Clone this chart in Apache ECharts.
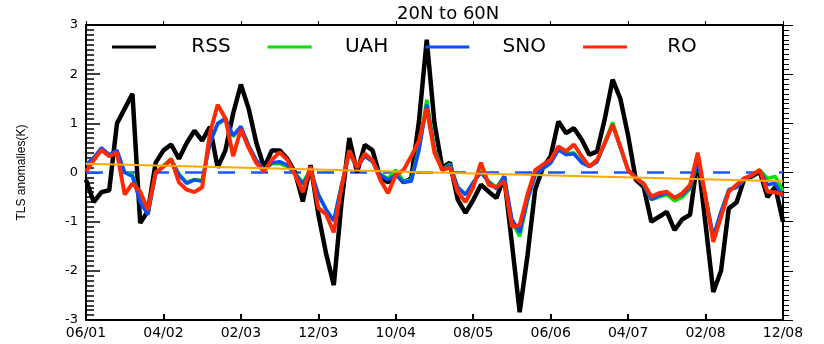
<!DOCTYPE html>
<html>
<head>
<meta charset="utf-8">
<script src="https://cdn.jsdelivr.net/npm/echarts@6/dist/echarts.min.js"></script>
<style>
html,body{margin:0;padding:0;background:#fff;}
#chart{width:824px;height:344px;}
</style>
</head>
<body>
<div id="chart"></div>
<script>
// Months June 2001 .. December 2008 (91 months)
const startYear = 2001, startMonth = 6, monthCount = 91;
const categories = [];
for (let k = 0; k < monthCount; k++) {
  const m = (startMonth - 1 + k) % 12 + 1;
  const y = startYear + Math.floor((startMonth - 1 + k) / 12);
  categories.push(String(m).padStart(2, '0') + '/' + String(y % 100).padStart(2, '0'));
}
const tickLabels = ['06/01','04/02','02/03','12/03','10/04','08/05','06/06','04/07','02/08','12/08'];

const rss = [-0.15,-0.6,-0.4,-0.36,1.0,1.3,1.6,-1.03,-0.78,0.2,
  0.45,0.57,0.28,0.6,0.85,0.65,0.93,0.1,0.45,1.2,
  1.79,1.3,0.6,0.1,0.45,0.45,0.28,0.0,-0.59,0.15,
  -0.85,-1.65,-2.29,-0.6,0.7,0.0,0.56,0.45,-0.1,-0.2,
  0.0,-0.2,-0.12,1.05,2.7,1.0,0.1,0.2,-0.55,-0.82,
  -0.56,-0.25,-0.39,-0.52,-0.08,-1.45,-2.84,-1.7,-0.35,0.1,
  0.33,1.04,0.8,0.9,0.67,0.36,0.43,1.1,1.89,1.5,
  0.75,-0.15,-0.29,-1.0,-0.9,-0.8,-1.17,-0.95,-0.86,0.3,
  -1.05,-2.43,-2.0,-0.73,-0.61,-0.13,-0.08,0.02,-0.5,-0.29,
  -1.0];
const uah = [0.15,0.3,0.48,0.36,0.43,0.0,-0.04,-0.58,-0.84,0.0,
  0.14,0.28,-0.03,-0.2,-0.14,-0.16,0.6,0.98,1.08,0.73,
  0.92,0.55,0.24,0.05,0.18,0.18,0.12,-0.02,-0.2,0.06,
  -0.45,-0.75,-0.98,-0.25,0.42,0.12,0.35,0.22,-0.03,-0.12,
  0.05,-0.18,-0.15,0.5,1.48,0.48,0.06,0.17,-0.3,-0.45,
  -0.2,0.02,-0.18,-0.3,-0.08,-1.0,-1.3,-0.58,-0.05,0.08,
  0.2,0.48,0.38,0.4,0.22,0.12,0.22,0.62,1.02,0.52,
  0.05,-0.1,-0.25,-0.55,-0.5,-0.45,-0.58,-0.5,-0.33,0.25,
  -0.5,-1.32,-0.8,-0.35,-0.3,-0.15,-0.05,0.05,-0.12,-0.08,
  -0.38];
const sno = [0.15,0.3,0.5,0.36,0.45,0.0,-0.08,-0.6,-0.86,-0.02,
  0.12,0.25,-0.05,-0.22,-0.15,-0.18,0.6,1.0,1.1,0.75,
  0.94,0.55,0.25,0.05,0.2,0.22,0.15,-0.02,-0.24,0.05,
  -0.45,-0.75,-0.98,-0.25,0.4,0.1,0.33,0.22,-0.05,-0.15,
  -0.05,-0.2,-0.18,0.45,1.38,0.45,0.05,0.15,-0.3,-0.45,
  -0.2,0.0,-0.2,-0.33,-0.08,-0.95,-1.22,-0.55,-0.05,0.08,
  0.19,0.46,0.36,0.38,0.2,0.12,0.22,0.6,0.97,0.5,
  0.05,-0.1,-0.25,-0.55,-0.47,-0.42,-0.5,-0.45,-0.3,0.25,
  -0.5,-1.3,-0.8,-0.35,-0.3,-0.15,-0.05,0.05,-0.25,-0.22,
  -0.5];
const ro = [0.02,0.25,0.46,0.33,0.4,-0.45,-0.22,-0.39,-0.76,0.0,
  0.12,0.27,-0.2,-0.35,-0.4,-0.3,0.8,1.38,1.1,0.33,
  0.88,0.5,0.19,0.02,0.26,0.41,0.26,-0.05,-0.4,0.12,
  -0.72,-0.85,-1.22,-0.3,0.45,0.1,0.38,0.25,-0.15,-0.42,
  -0.05,0.05,0.33,0.65,1.3,0.4,0.05,0.1,-0.4,-0.6,
  -0.3,0.2,-0.25,-0.3,-0.18,-1.1,-1.07,-0.45,0.05,0.16,
  0.26,0.53,0.43,0.57,0.33,0.12,0.26,0.6,0.97,0.53,
  0.05,-0.12,-0.22,-0.49,-0.42,-0.39,-0.52,-0.42,-0.25,0.4,
  -0.5,-1.41,-0.9,-0.39,-0.25,-0.12,-0.05,0.05,-0.39,-0.4,
  -0.45];
const trendEnds = [0.18, -0.18];
const zeroLevel = [0, 0];

const names = ['RSS','UAH','SNO','RO'];
const colors = ['#000000','#00e000','#0a4dff','#ff2a00'];
const values = [rss, uah, sno, ro];
const widths = [4.5, 3.5, 3.5, 4];

const chart = echarts.init(document.getElementById('chart'));
const last = categories.length - 1;

const series = names.map((n, k) => ({
  name: n, type: 'line', data: values[k], symbol: 'none', smooth: false,
  lineStyle: {color: colors[k], width: widths[k]}, itemStyle: {color: colors[k]},
  z: 3 + k, animation: false
}));
series.push({
  name: 'zero', type: 'line', data: [[0, zeroLevel[0]], [last, zeroLevel[1]]], symbol: 'none',
  xAxisIndex: 1, yAxisIndex: 1,
  lineStyle: {color: '#1a55ff', width: 2.5, type: [17, 16]}, z: 2, animation: false, silent: true
});
series.push({
  name: 'trend', type: 'line', data: [[0, trendEnds[0]], [last, trendEnds[1]]], symbol: 'none',
  xAxisIndex: 1, yAxisIndex: 1,
  lineStyle: {color: '#ffa800', width: 2}, z: 8, animation: false, silent: true
});

const font = 'DejaVu Sans';
chart.setOption({
  animation: false,
  backgroundColor: '#ffffff',
  title: {
    text: '20N to 60N', left: 392, top: 0,
    textStyle: {fontFamily: font, fontSize: 18, fontWeight: 'normal', color: '#000'}
  },
  legend: {
    data: names, left: 107, top: 32, itemWidth: 44, itemHeight: 3, itemGap: 37,
    icon: 'rect',
    formatter: '{t|{name}}',
    textStyle: {
      fontFamily: font, fontSize: 20, color: '#000',
      rich: {t: {width: 100, align: 'center', fontFamily: font, fontSize: 20, color: '#000'}}
    }
  },
  grid: {left: 86, right: 41, top: 25, bottom: 24},
  xAxis: [{
    type: 'category', data: categories, boundaryGap: false,
    axisLine: {show: true, onZero: false, lineStyle: {color: '#000', width: 2}},
    axisTick: {show: true, inside: true, interval: 9, length: 6, lineStyle: {color: '#000', width: 2}},
    axisLabel: {interval: 9, color: '#000', fontFamily: font, fontSize: 14, margin: 6, showMaxLabel: true, showMinLabel: true},
    splitLine: {show: false}
  }, {
    type: 'category', data: categories, boundaryGap: false, position: 'top',
    axisLine: {show: true, onZero: false, lineStyle: {color: '#000', width: 2}},
    axisTick: {show: true, inside: false, interval: 9, length: 4, lineStyle: {color: '#000'}},
    axisLabel: {show: true, interval: 9, color: 'rgba(0,0,0,0)'}
  }],
  yAxis: [{
    type: 'value', min: -3, max: 3, interval: 1,
    name: 'TLS anomalies(K)', nameLocation: 'middle', nameGap: 58,
    nameTextStyle: {fontFamily: 'Liberation Sans', fontSize: 12, color: '#000'},
    axisLine: {show: true, onZero: false, lineStyle: {color: '#000', width: 2}},
    axisTick: {show: true, inside: true, length: 14, lineStyle: {color: '#000', width: 1.5}},
    minorTick: {show: true, splitNumber: 10, length: 8, lineStyle: {color: '#000', width: 1.5}},
    axisLabel: {color: '#000', fontFamily: font, fontSize: 13, margin: 8},
    splitLine: {show: false}, minorSplitLine: {show: false}
  }, {
    type: 'value', min: -3, max: 3, interval: 1, position: 'right',
    axisLine: {show: true, onZero: false, lineStyle: {color: '#000', width: 2}},
    axisTick: {show: true, inside: false, length: 10, lineStyle: {color: '#000'}},
    minorTick: {show: true, splitNumber: 10, length: 6, lineStyle: {color: '#000'}},
    axisLabel: {show: true, color: 'rgba(0,0,0,0)'},
    splitLine: {show: false}
  }],
  series: series
});
</script>
</body>
</html>
